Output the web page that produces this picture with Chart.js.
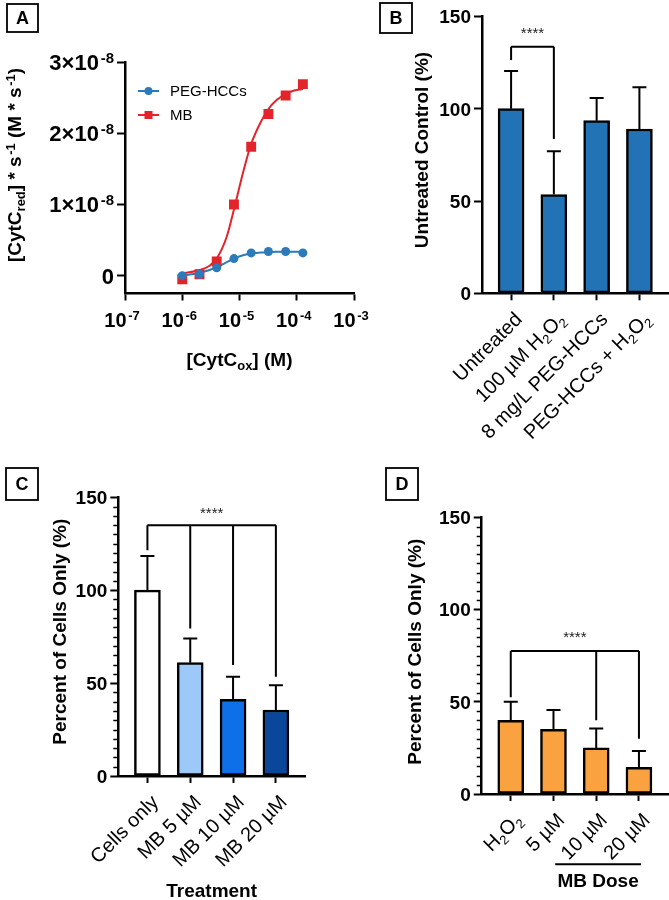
<!DOCTYPE html>
<html>
<head>
<meta charset="utf-8">
<script src="https://cdn.jsdelivr.net/npm/chart.js@4.4.1/dist/chart.umd.min.js"></script>
<style>
  body { margin: 0; background: #fff; }
  #wrap { position: relative; width: 669px; height: 900px; }
  #wrap canvas { position: absolute; left: 0; top: 0; }
</style>
</head>
<body>
<div id="wrap">
  <canvas id="chartA" width="669" height="900"></canvas>
  <canvas id="chartB" width="669" height="900"></canvas>
  <canvas id="chartC" width="669" height="900"></canvas>
  <canvas id="chartD" width="669" height="900"></canvas>
</div>
<script>
// ---- data ----
// A: rate of CytC reduction vs [CytC_ox]
const concA = [1e-6, 2e-6, 4e-6, 8e-6, 1.6e-5, 3.2e-5, 6.4e-5, 1.28e-4];
const pegRate = [0, 0.02e-8, 0.11e-8, 0.24e-8, 0.32e-8, 0.34e-8, 0.34e-8, 0.32e-8];
const mbRate = [-0.05e-8, 0.02e-8, 0.2e-8, 1.0e-8, 1.81e-8, 2.27e-8, 2.53e-8, 2.69e-8];
// fitted curves, traced
const fitConc = [1e-6, 2e-6, 3e-6, 4e-6, 6e-6, 8e-6, 1.2e-5, 1.6e-5, 2.4e-5, 3.2e-5, 4.5e-5, 6.4e-5, 9e-5, 1.28e-4];
const pegFit = [0, 0.04e-8, 0.08e-8, 0.12e-8, 0.19e-8, 0.24e-8, 0.29e-8, 0.31e-8, 0.325e-8, 0.33e-8, 0.335e-8, 0.335e-8, 0.335e-8, 0.335e-8];
const mbFit = [0.03e-8, 0.08e-8, 0.14e-8, 0.24e-8, 0.55e-8, 0.93e-8, 1.5e-8, 1.85e-8, 2.17e-8, 2.34e-8, 2.47e-8, 2.55e-8, 2.6e-8, 2.62e-8];
const xTicksA = [1e-7, 1e-6, 1e-5, 1e-4, 1e-3];
const yTicksA = [0, 1e-8, 2e-8, 3e-8];
const yTickLabelsA = ['0', '1×10^{-8}', '2×10^{-8}', '3×10^{-8}'];
const xTickLabelsA = ['10^{-7}', '10^{-6}', '10^{-5}', '10^{-4}', '10^{-3}'];

// B
const labelsB = ['Untreated', '100 µM H_{2}O_{2}', '8 mg/L PEG-HCCs', 'PEG-HCCs + H_{2}O_{2}'];
const meanB = [100, 53.5, 93.5, 89];
const sdB = [20.4, 23.5, 12.3, 22.6];
const sigB = { bars: [0, 1], top: 133.6, ends: [126.4, 83.6], stars: 143 };

// C
const labelsC = ['Cells only', 'MB 5 µM', 'MB 10 µM', 'MB 20 µM'];
const meanC = [100, 61, 41.2, 35.5];
const sdC = [18.4, 13, 12.2, 13.4];
const sigC = { bars: [0, 1, 2, 3], top: 135, ends: [121.5, 79.4, 59.7, 53.4], stars: 143.5 };

// D
const labelsD = ['H_{2}O_{2}', '5 µM', '10 µM', '20 µM'];
const meanD = [40, 35, 25, 14.5];
const sdD = [10, 10.5, 10.5, 8.8];
const sigD = { bars: [0, 2, 3], top: 77.5, ends: [52.5, 40, 30], stars: 87 };

const yTicksBar = [0, 50, 100, 150];

// ---- style ----
const FONT = '"Liberation Sans", Arial, Helvetica, sans-serif';
const W = 669, H = 900, YTICK = 8, XTICK = 7;
const BLUE = '#2b7bba', RED = '#e3242b';
const colorsB = ['#2273b5', '#2273b5', '#2273b5', '#2273b5'];
const colorsC = ['#ffffff', '#9cc9f8', '#0d70e9', '#0a479a'];
const colorsD = ['#f9a23f', '#f9a23f', '#f9a23f', '#f9a23f'];

function padFor(a) {
  return { left: a.l - YTICK, right: W - a.r, top: a.t, bottom: H - a.b - XTICK };
}
function axisStyle(len) {
  return {
    offset: false,
    grid: { display: true, offset: false, drawOnChartArea: false, drawTicks: true, tickLength: len, tickWidth: 2, color: '#000' },
    border: { display: true, color: '#000', width: 2.5 },
    ticks: { display: false }
  };
}

// text with _{sub} and ^{sup}
function parseRich(str) {
  const parts = [], re = /([_^])\{([^}]*)\}/g;
  let last = 0, m;
  while ((m = re.exec(str))) {
    if (m.index > last) parts.push([str.slice(last, m.index), '']);
    parts.push([m[2], m[1] === '_' ? 'sub' : 'sup']);
    last = re.lastIndex;
  }
  if (last < str.length) parts.push([str.slice(last), '']);
  return parts;
}
function drawRich(ctx, str, x, y, size, weight, align) {
  const segs = parseRich(str).map(([t, k]) => {
    const s = k ? Math.round(size * 0.66) : size;
    ctx.font = `${weight} ${s}px ${FONT}`;
    const pad = k === 'sup' ? size * 0.08 : 0;
    return { t, k, s, pad, w: ctx.measureText(t).width + pad };
  });
  const total = segs.reduce((a, g) => a + g.w, 0);
  let cx = align === 'right' ? x - total : align === 'center' ? x - total / 2 : x;
  ctx.textAlign = 'left';
  ctx.textBaseline = 'alphabetic';
  ctx.fillStyle = '#000';
  segs.forEach(g => {
    ctx.font = `${weight} ${g.s}px ${FONT}`;
    const dy = g.k === 'sub' ? size * 0.22 : g.k === 'sup' ? -size * 0.32 : 0;
    ctx.fillText(g.t, cx + g.pad, y + dy);
    cx += g.w;
  });
}
function drawVertical(ctx, str, x, y, size) {
  ctx.save();
  ctx.translate(x, y);
  ctx.rotate(-Math.PI / 2);
  drawRich(ctx, str, 0, 0, size, 'bold', 'center');
  ctx.restore();
}
function panelBox(ctx, letter, x, y, w, h) {
  ctx.save();
  ctx.lineWidth = 1.8;
  ctx.strokeStyle = '#000';
  ctx.strokeRect(x, y, w, h);
  ctx.fillStyle = '#000';
  ctx.font = `bold 18px ${FONT}`;
  ctx.textAlign = 'center';
  ctx.textBaseline = 'middle';
  ctx.fillText(letter, x + w / 2, y + h / 2 + 1);
  ctx.restore();
}

// ---- bar helpers ----
function yTickLabels(c, labels, size) {
  const s = c.scales.y;
  s.ticks.forEach((t, i) => {
    const txt = labels ? labels[i] : String(t.value);
    drawRich(c.ctx, txt, s.right - YTICK - 3, s.getPixelForValue(t.value) + size * 0.36, size, 'bold', 'right');
  });
}
function minorTicks(c) {
  const s = c.scales.y, ctx = c.ctx, x = c.chartArea.left;
  ctx.save();
  ctx.strokeStyle = '#000';
  ctx.lineWidth = 1.5;
  for (let v = 5; v < 150; v += 5) {
    if (v % 50 === 0) continue;
    const y = Math.round(s.getPixelForValue(v)) + 0.5;
    ctx.beginPath(); ctx.moveTo(x - 5, y); ctx.lineTo(x, y); ctx.stroke();
  }
  ctx.restore();
}
function catLabels(c, labels) {
  const xs = c.scales.x, ctx = c.ctx, size = 20;
  labels.forEach((lab, i) => {
    ctx.save();
    ctx.translate(xs.getPixelForValue(i) + 2, c.chartArea.bottom + 17);
    ctx.rotate(-Math.PI / 4);
    drawRich(ctx, lab, 0, size * 0.716, size, 'normal', 'right');
    ctx.restore();
  });
}
function errorBars(c, means, sds) {
  const xs = c.scales.x, ys = c.scales.y, ctx = c.ctx;
  ctx.save();
  ctx.strokeStyle = '#000';
  ctx.lineWidth = 2;
  means.forEach((m, i) => {
    const x = xs.getPixelForValue(i), y0 = ys.getPixelForValue(m), y1 = ys.getPixelForValue(m + sds[i]);
    ctx.beginPath();
    ctx.moveTo(x, y0); ctx.lineTo(x, y1);
    ctx.moveTo(x - 7, y1); ctx.lineTo(x + 7, y1);
    ctx.stroke();
  });
  ctx.restore();
}
function bracket(c, sig) {
  const xs = c.scales.x, ys = c.scales.y, ctx = c.ctx;
  const x0 = xs.getPixelForValue(sig.bars[0]), x1 = xs.getPixelForValue(sig.bars[sig.bars.length - 1]);
  const yt = ys.getPixelForValue(sig.top);
  ctx.save();
  ctx.strokeStyle = '#000';
  ctx.lineWidth = 2;
  ctx.beginPath();
  ctx.moveTo(x0, yt); ctx.lineTo(x1, yt);
  sig.bars.forEach((b, i) => {
    const x = xs.getPixelForValue(b);
    ctx.moveTo(x, yt); ctx.lineTo(x, ys.getPixelForValue(sig.ends[i]));
  });
  ctx.stroke();
  ctx.fillStyle = '#222';
  ctx.font = `15px ${FONT}`;
  ctx.textAlign = 'center';
  ctx.textBaseline = 'alphabetic';
  ctx.fillText('****', (x0 + x1) / 2, ys.getPixelForValue(sig.stars) + 8.6);
  ctx.restore();
}

function barChart(id, area, labels, means, sds, colors, sig, extra) {
  return new Chart(document.getElementById(id), {
    type: 'bar',
    data: {
      datasets: [{
        data: means.map((v, i) => ({ x: i, y: v })),
        backgroundColor: colors,
        borderColor: '#000',
        borderWidth: 2.5,
        borderSkipped: false,
        barThickness: 26
      }]
    },
    options: {
      responsive: false,
      animation: false,
      devicePixelRatio: 1,
      layout: { padding: padFor(area), autoPadding: false },
      plugins: { legend: { display: false }, tooltip: { enabled: false } },
      scales: {
        x: Object.assign({
          type: 'linear', min: -0.68, max: 3.68,
          afterBuildTicks: s => { s.ticks = labels.map((_, i) => ({ value: i })); }
        }, axisStyle(XTICK)),
        y: Object.assign({
          type: 'linear', min: 0, max: 150,
          afterBuildTicks: s => { s.ticks = yTicksBar.map(v => ({ value: v })); }
        }, axisStyle(YTICK))
      }
    },
    plugins: [{
      id: 'decor' + id,
      afterDatasetsDraw: c => { errorBars(c, means, sds); bracket(c, sig); },
      afterDraw: c => { yTickLabels(c, null, 19); catLabels(c, labels); extra(c); }
    }]
  });
}

Chart.defaults.font.family = FONT;

// ===============================
// A – reduction rate curves
// ===============================
new Chart(document.getElementById('chartA'), {
  type: 'scatter',
  data: {
    datasets: [
      { label: 'PEG-HCCs', data: concA.map((x, i) => ({ x, y: pegRate[i] })), pointStyle: 'circle', pointRadius: 4.5, backgroundColor: BLUE, borderColor: BLUE, borderWidth: 0 },
      { label: 'MB', data: concA.map((x, i) => ({ x, y: mbRate[i] })), pointStyle: 'rect', pointRadius: 7, backgroundColor: RED, borderColor: RED, borderWidth: 0 },
      { label: 'PEG-HCCs fit', data: fitConc.map((x, i) => ({ x, y: pegFit[i] })), showLine: true, pointRadius: 0, borderColor: BLUE, borderWidth: 2, cubicInterpolationMode: 'monotone' },
      { label: 'MB fit', data: fitConc.map((x, i) => ({ x, y: mbFit[i] })), showLine: true, pointRadius: 0, borderColor: RED, borderWidth: 2, cubicInterpolationMode: 'monotone' }
    ]
  },
  options: {
    responsive: false,
    animation: false,
    devicePixelRatio: 1,
    layout: { padding: padFor({ l: 125, r: 354, t: 62, b: 293.5 }), autoPadding: false },
    plugins: { legend: { display: false }, tooltip: { enabled: false } },
    scales: {
      x: Object.assign({
        type: 'logarithmic', min: 1e-7, max: 1e-3,
        afterBuildTicks: s => { s.ticks = xTicksA.map(v => ({ value: v })); }
      }, axisStyle(XTICK)),
      y: Object.assign({
        type: 'linear', min: -0.25e-8, max: 3e-8,
        afterBuildTicks: s => { s.ticks = yTicksA.map(v => ({ value: v })); }
      }, axisStyle(YTICK))
    }
  },
  plugins: [{
    id: 'decorA',
    afterDraw: c => {
      const ctx = c.ctx, xs = c.scales.x, area = c.chartArea;
      panelBox(ctx, 'A', 7, 4, 31, 28);
      yTickLabels(c, yTickLabelsA, 22);
      xs.ticks.forEach((t, i) => drawRich(ctx, xTickLabelsA[i], xs.getPixelForValue(t.value) - 3, area.bottom + 33, 20, 'bold', 'center'));
      drawRich(ctx, '[CytC_{ox}] (M)', (area.left + area.right) / 2, 366, 19, 'bold', 'center');
      drawVertical(ctx, '[CytC_{red}] * s^{-1} (M * s^{-1})', 21, 165, 19);
      // legend
      [0, 1].forEach((k, j) => {
        const ds = c.data.datasets[k], y = 91 + j * 24;
        ctx.save();
        ctx.strokeStyle = ds.borderColor; ctx.fillStyle = ds.backgroundColor; ctx.lineWidth = 2;
        ctx.beginPath(); ctx.moveTo(138, y); ctx.lineTo(159, y); ctx.stroke();
        if (ds.pointStyle === 'circle') { ctx.beginPath(); ctx.arc(148.5, y, 4, 0, Math.PI * 2); ctx.fill(); }
        else ctx.fillRect(144.5, y - 4, 8, 8);
        ctx.restore();
        ctx.fillStyle = '#000';
        ctx.font = `15px ${FONT}`;
        ctx.textAlign = 'left'; ctx.textBaseline = 'alphabetic';
        ctx.fillText(ds.label, 170, y + 5);
      });
    }
  }]
});

// ===============================
// B – viability with H2O2 / PEG-HCCs
// ===============================
barChart('chartB', { l: 482, r: 668.5, t: 16.4, b: 293.3 }, labelsB, meanB, sdB, colorsB, sigB, c => {
  panelBox(c.ctx, 'B', 380, 3, 32, 30);
  drawVertical(c.ctx, 'Untreated Control (%)', 428, 150, 19);
});

// ===============================
// C – MB treatment
// ===============================
barChart('chartC', { l: 118.3, r: 305, t: 497.3, b: 776 }, labelsC, meanC, sdC, colorsC, sigC, c => {
  minorTicks(c);
  panelBox(c.ctx, 'C', 6, 468, 32, 32);
  drawVertical(c.ctx, 'Percent of Cells Only (%)', 66, 631.7, 19);
  drawRich(c.ctx, 'Treatment', (c.chartArea.left + c.chartArea.right) / 2, 897, 19, 'bold', 'center');
});

// ===============================
// D – MB dose with H2O2
// ===============================
barChart('chartD', { l: 481.7, r: 668, t: 517.3, b: 794 }, labelsD, meanD, sdD, colorsD, sigD, c => {
  const ctx = c.ctx, xs = c.scales.x;
  minorTicks(c);
  panelBox(ctx, 'D', 386, 468, 32, 32);
  drawVertical(ctx, 'Percent of Cells Only (%)', 420.7, 651.7, 19);
  const x0 = xs.getPixelForValue(2) - 41, x1 = xs.getPixelForValue(3) + 2;
  ctx.save();
  ctx.strokeStyle = '#000'; ctx.lineWidth = 2;
  ctx.beginPath(); ctx.moveTo(x0, 864.3); ctx.lineTo(x1, 864.3); ctx.stroke();
  ctx.restore();
  drawRich(ctx, 'MB Dose', (x0 + x1) / 2, 887, 19, 'bold', 'center');
});
</script>
</body>
</html>
